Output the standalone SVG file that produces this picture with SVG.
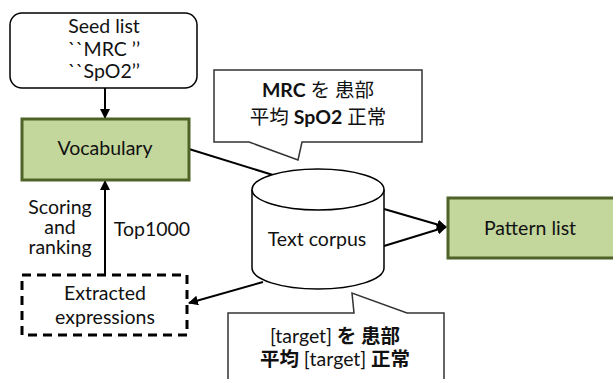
<svg xmlns="http://www.w3.org/2000/svg" width="613" height="379" viewBox="0 0 613 379">
<style>
text{font-family:Lato,"Noto Sans CJK JP",sans-serif;font-size:19.5px;fill:#111;text-anchor:middle}
.b{font-weight:bold}
.n{font-weight:normal}
.box{fill:#fff;stroke:#000;stroke-width:1.5}
.green{fill:#c3d69b;stroke:#4f6228;stroke-width:3}
.conn{stroke:#000;stroke-width:2;fill:none}
.call{fill:#fff;stroke:#333;stroke-width:1.5}
</style>
<defs>
<marker id="ah" viewBox="0 0 10 10" refX="9" refY="5" markerWidth="5" markerHeight="5" orient="auto-start-reverse" markerUnits="strokeWidth">
<path d="M0,0 L10,5 L0,10 z" fill="#000"/>
</marker>
</defs>
<g id="connectors">
<line class="conn" x1="105" y1="88" x2="105" y2="118" marker-end="url(#ah)"/>
<line class="conn" x1="105" y1="275" x2="105" y2="181" marker-end="url(#ah)"/>
<line class="conn" x1="189" y1="149" x2="273" y2="175"/>
<line class="conn" x1="384" y1="209" x2="446" y2="227" marker-end="url(#ah)"/>
<line class="conn" x1="384" y1="246" x2="446" y2="227" marker-end="url(#ah)"/>
<line class="conn" x1="263" y1="282" x2="189" y2="303" marker-end="url(#ah)"/>
</g>
<g id="seed">
<rect class="box" x="10" y="13" width="187" height="75" rx="12"/>
<text x="104" y="33">Seed list</text>
<text x="104" y="56">``MRC ’’</text>
<text x="104" y="78">``SpO2’’</text>
</g>
<g id="vocabulary">
<rect class="green" x="22" y="119" width="167" height="61"/>
<text x="105" y="155">Vocabulary</text>
</g>
<g id="labels">
<text x="60" y="214">Scoring</text>
<text x="60" y="234">and</text>
<text x="60" y="254">ranking</text>
<text x="152" y="236">Top1000</text>
</g>
<g id="extracted">
<rect x="22" y="275" width="165" height="60" fill="#fff" stroke="#000" stroke-width="3" stroke-dasharray="9,6"/>
<text x="105" y="300">Extracted</text>
<text x="105" y="324">expressions</text>
</g>
<g id="corpus">
<path class="box" d="M252,189.5 L252,268 A66,21 0 0 0 384,268 L384,189.5"/>
<ellipse class="box" cx="318" cy="189.5" rx="66" ry="20.5"/>
<text x="317" y="246">Text corpus</text>
</g>
<g id="pattern">
<rect class="green" x="448" y="198" width="170" height="60"/>
<text x="530" y="235">Pattern list</text>
</g>
<g id="callout1">
<path class="call" d="M214,70 L422,70 L422,142 L302,142 L298,160 L249,142 L214,142 Z"/>
<text x="318" y="97"><tspan class="b">MRC</tspan> を 患部</text>
<text x="318" y="124">平均 <tspan class="b">SpO2</tspan> 正常</text>
</g>
<g id="callout2">
<path class="call" d="M228,385 L228,313 L354,313 L352,293 L407,313 L444,313 L444,385"/>
<text x="335" y="343" class="b"><tspan class="n">[target]</tspan> を 患部</text>
<text x="335" y="366" class="b">平均 <tspan class="n">[target]</tspan> 正常</text>
</g>
</svg>
